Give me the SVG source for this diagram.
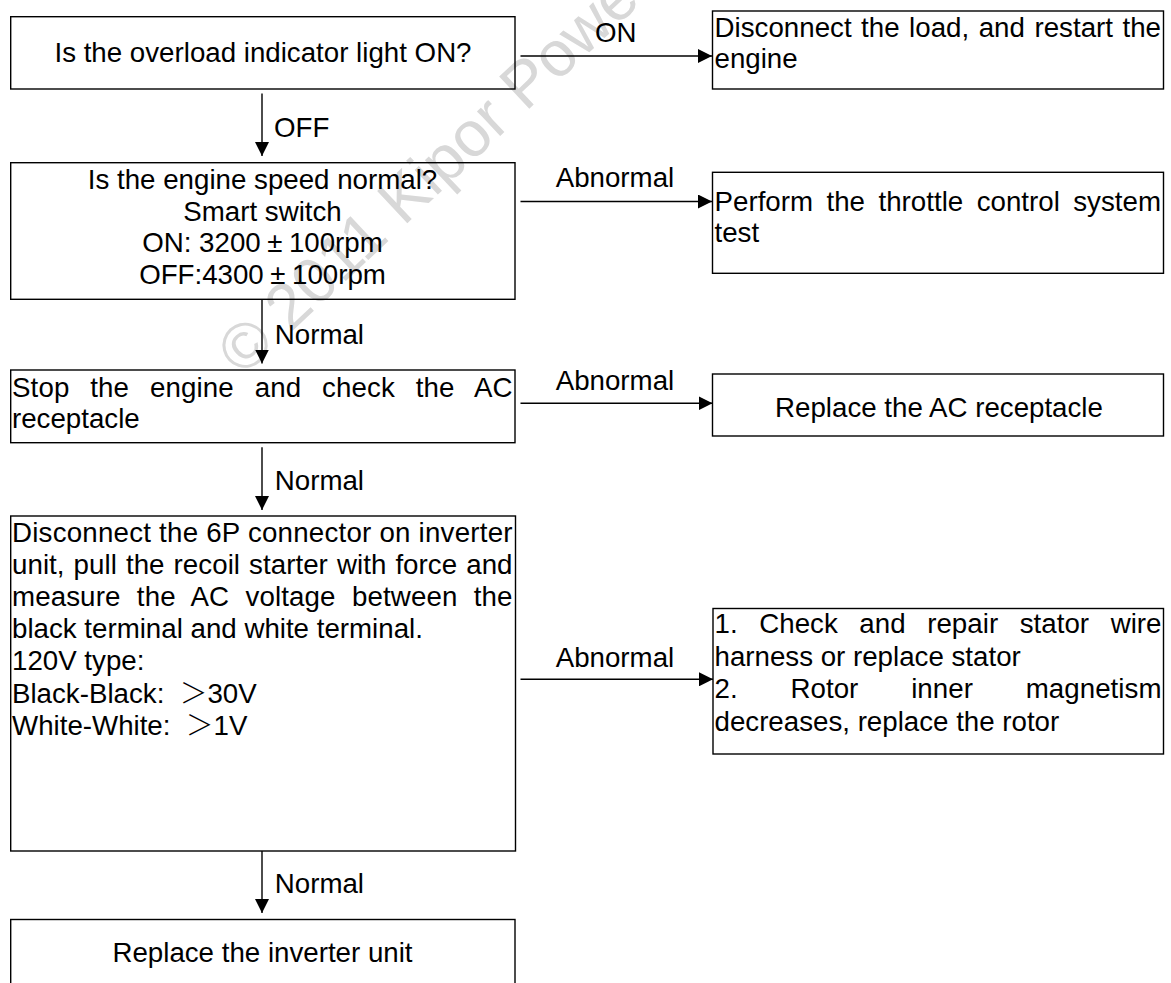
<svg xmlns="http://www.w3.org/2000/svg" width="1171" height="983" viewBox="0 0 1171 983">
<style>
  .box { fill: none; stroke: #000; stroke-width: 1.4; }
  .t { font-family: "Liberation Sans", Arial, sans-serif; font-size: 27.7px; fill: #000; }
  .c { text-anchor: middle; }
  .lbl { font-family: "Liberation Sans", Arial, sans-serif; font-size: 27.7px; fill: #000; }
  .edge { fill: none; stroke: #000; stroke-width: 1.4; marker-end: url(#arrow); }
  .cjk { font-family: "Noto Sans CJK SC", "Liberation Sans", sans-serif; font-weight: 300; }
  .wm { font-family: "Liberation Sans", Arial, sans-serif; font-size: 64px; fill: #d8d8d8; }
</style>
<defs>
  <marker id="arrow" markerUnits="userSpaceOnUse" markerWidth="14" markerHeight="14" refX="14" refY="7" orient="auto">
    <path d="M0,0 L14,7 L0,14 Z" fill="#000"/>
  </marker>
</defs>
<rect width="1171" height="983" fill="#fff"/>
<text class="wm" transform="translate(243,377.5) rotate(-43.2)">© 2011 Kipor Power</text>

<g id="connectors">
  <line class="edge" x1="262" y1="93.5" x2="262" y2="156"/>
  <line class="edge" x1="262" y1="299.3" x2="262" y2="363.5"/>
  <line class="edge" x1="262" y1="447.3" x2="262" y2="510"/>
  <line class="edge" x1="262" y1="851" x2="262" y2="913"/>
  <line class="edge" x1="520.5" y1="56" x2="712" y2="56"/>
  <line class="edge" x1="520.5" y1="201.5" x2="712" y2="201.5"/>
  <line class="edge" x1="520.5" y1="403.3" x2="712.5" y2="403.3"/>
  <line class="edge" x1="520.5" y1="679.3" x2="713" y2="679.3"/>
  <text class="lbl" x="274" y="136.7">OFF</text>
  <text class="lbl" x="274.8" y="344.3">Normal</text>
  <text class="lbl" x="274.8" y="490">Normal</text>
  <text class="lbl" x="274.8" y="893">Normal</text>
  <text class="lbl" x="595" y="41.7">ON</text>
  <text class="lbl" x="555.7" y="186.7">Abnormal</text>
  <text class="lbl" x="555.7" y="390">Abnormal</text>
  <text class="lbl" x="555.7" y="666.7">Abnormal</text>
</g>

<g id="n1">
  <rect class="box" x="10.7" y="16.7" width="504.3" height="72.3"/>
  <text class="t c" x="263" y="61.7">Is the overload indicator light ON?</text>
</g>

<g id="n2">
  <rect class="box" x="10.7" y="162.7" width="504.3" height="136.6"/>
  <text class="t c" x="262.5" y="189">Is the engine speed normal?</text>
  <text class="t c" x="262.5" y="220.7">Smart switch</text>
  <text class="t c" x="262.5" y="252.3">ON: 3200<tspan dx="6.5">±</tspan><tspan dx="6.5">100rpm</tspan></text>
  <text class="t c" x="262.5" y="284.3">OFF:4300<tspan dx="6.5">±</tspan><tspan dx="6.5">100rpm</tspan></text>
</g>

<g id="n3">
  <rect class="box" x="10.7" y="370" width="504.3" height="72.7"/>
  <text class="t" x="12" y="396.7" word-spacing="13" textLength="500.5" lengthAdjust="spacing">Stop the engine and check the AC</text>
  <text class="t" x="12" y="428.3">receptacle</text>
</g>

<g id="n4">
  <rect class="box" x="10.7" y="516" width="504.8" height="335"/>
  <text class="t" x="12" y="541.5" textLength="500.5" lengthAdjust="spacing">Disconnect the 6P connector on inverter</text>
  <text class="t" x="12" y="573.7" word-spacing="1.3" textLength="500.5" lengthAdjust="spacing">unit, pull the recoil starter with force and</text>
  <text class="t" x="12" y="605.9" word-spacing="8.6" textLength="500.5" lengthAdjust="spacing">measure the AC voltage between the</text>
  <text class="t" x="12" y="638.1">black terminal and white terminal.</text>
  <text class="t" x="12" y="670.3">120V type:</text>
  <text class="t" x="12" y="702.5" xml:space="preserve">Black-Black:  <tspan class="cjk">＞</tspan>30V</text>
  <text class="t" x="12" y="734.7" xml:space="preserve">White-White:  <tspan class="cjk">＞</tspan>1V</text>
</g>

<g id="n5">
  <rect class="box" x="10.7" y="919.5" width="504.3" height="80"/>
  <text class="t c" x="262.5" y="961.7">Replace the inverter unit</text>
</g>

<g id="r1">
  <rect class="box" x="712.5" y="11" width="451" height="78"/>
  <text class="t" x="714.5" y="36.7" word-spacing="1.7" textLength="446.5" lengthAdjust="spacing">Disconnect the load, and restart the</text>
  <text class="t" x="714.5" y="68.3">engine</text>
</g>

<g id="r2">
  <rect class="box" x="712.5" y="172.3" width="451" height="101"/>
  <text class="t" x="714.5" y="210.7" word-spacing="5.7" textLength="446.5" lengthAdjust="spacing">Perform the throttle control system</text>
  <text class="t" x="714.5" y="241.7">test</text>
</g>

<g id="r3">
  <rect class="box" x="712.5" y="374" width="451" height="62"/>
  <text class="t c" x="939" y="417.3">Replace the AC receptacle</text>
</g>

<g id="r4">
  <rect class="box" x="713" y="608.5" width="450.5" height="145.5"/>
  <text class="t" x="714.5" y="633" word-spacing="13.8" textLength="447" lengthAdjust="spacing">1. Check and repair stator wire</text>
  <text class="t" x="714.5" y="665.7">harness or replace stator</text>
  <text class="t" x="714.5" y="698.3" word-spacing="45" textLength="447" lengthAdjust="spacing">2. Rotor inner magnetism</text>
  <text class="t" x="714.5" y="731">decreases, replace the rotor</text>
</g>
</svg>
